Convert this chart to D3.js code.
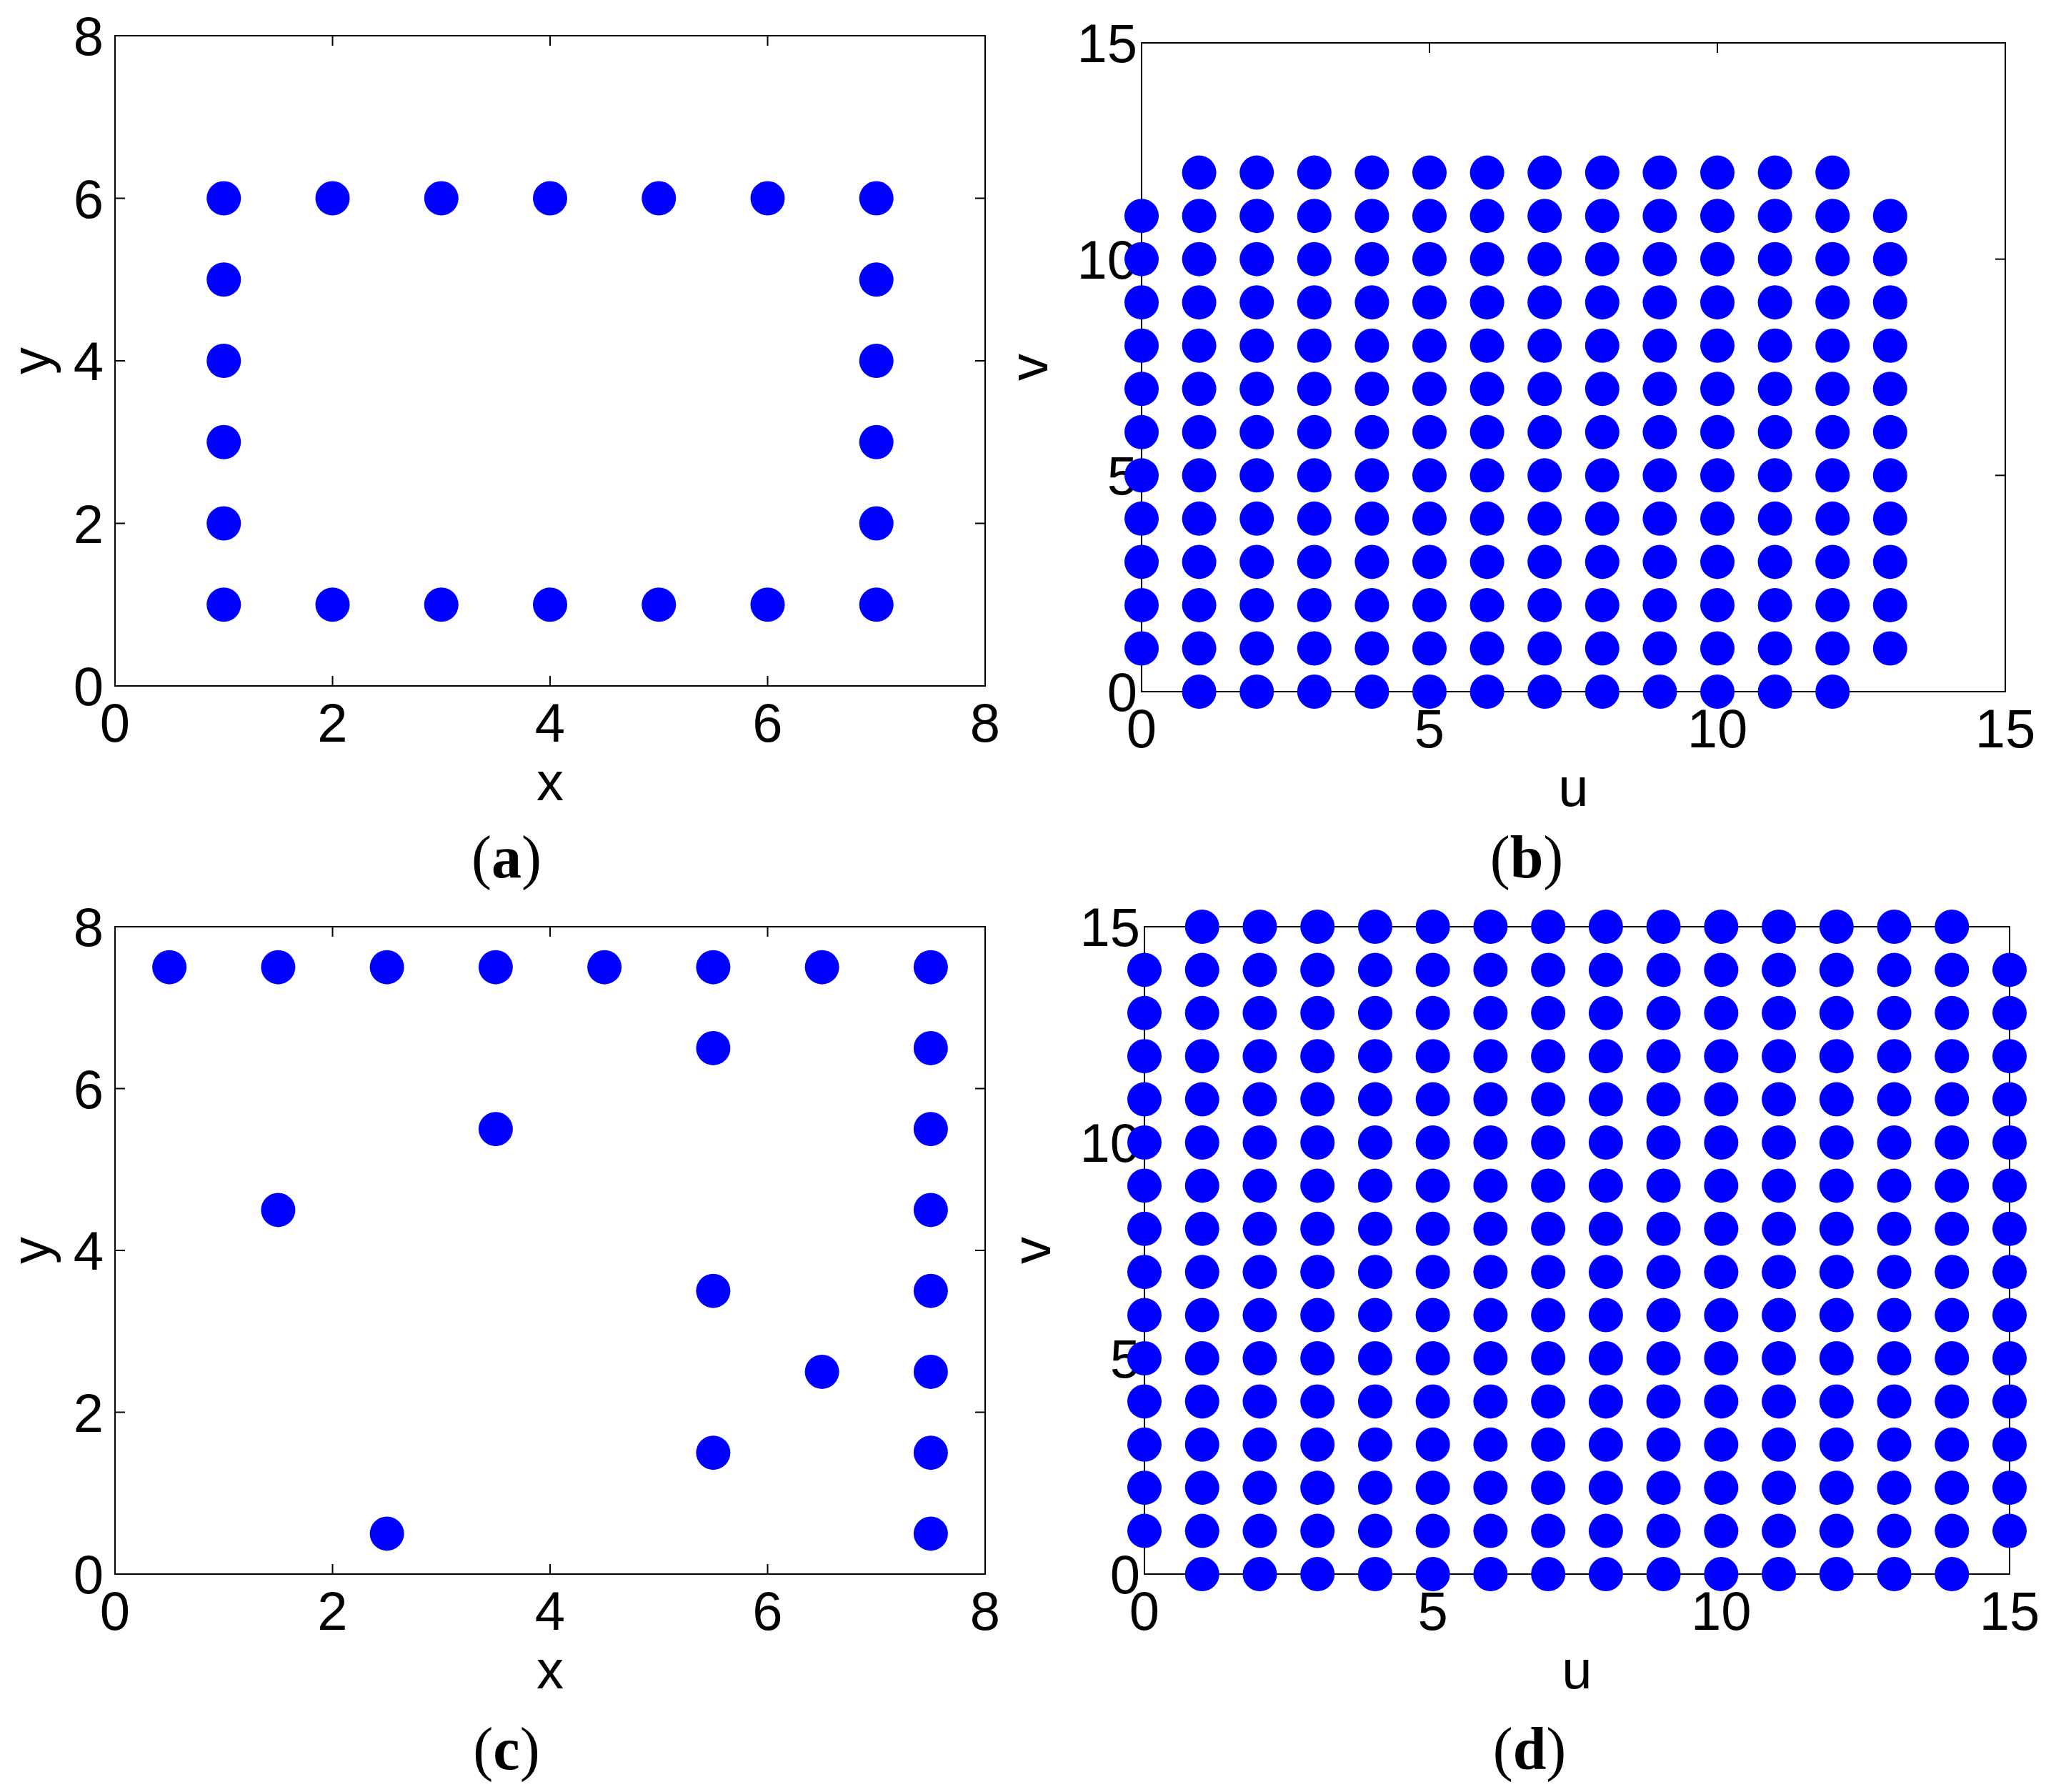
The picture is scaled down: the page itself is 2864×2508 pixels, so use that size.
<!DOCTYPE html>
<html><head><meta charset="utf-8">
<script src="https://cdn.jsdelivr.net/npm/d3@7"></script>
<style>body{margin:0;background:#fff}</style>
</head><body>
<script>
// panel (a): boundary points
var aX = [1,2,3,4,5,6,7, 1,2,3,4,5,6,7, 1,1,1,1, 7,7,7,7];
var aY = [6,6,6,6,6,6,6, 1,1,1,1,1,1,1, 5,4,3,2, 5,4,3,2];
// panel (b): grid columns u with v range
var bU    = [0,1,2,3,4,5,6,7,8,9,10,11,12,13];
var bVmin = [1,0,0,0,0,0,0,0,0,0,0,0,0,1];
var bVmax = [11,12,12,12,12,12,12,12,12,12,12,12,12,11];
// panel (c)
var cX = [0.5,1.5,2.5,3.5,4.5,5.5,6.5,7.5, 5.5,7.5,3.5,7.5,1.5,7.5,5.5,7.5,6.5,7.5,5.5,7.5,2.5,7.5];
var cY = [7.5,7.5,7.5,7.5,7.5,7.5,7.5,7.5, 6.5,6.5,5.5,5.5,4.5,4.5,3.5,3.5,2.5,2.5,1.5,1.5,0.5,0.5];
// panel (d)
var dU    = [0,1,2,3,4,5,6,7,8,9,10,11,12,13,14,15];
var dVmin = [1,0,0,0,0,0,0,0,0,0,0,0,0,0,0,1];
var dVmax = [14,15,15,15,15,15,15,15,15,15,15,15,15,15,15,14];

var ticks8 = [0,2,4,6,8], ticks15 = [0,5,10,15];

function gridPts(us, vmin, vmax){
  var pts = [];
  us.forEach(function(u,i){ for (var v = vmin[i]; v <= vmax[i]; v++) pts.push([u,v]); });
  return pts;
}

var svg = d3.select("body").append("svg").attr("width",2864).attr("height",2508);

var panels = [
  {l:161, r:1379, t:50, b:960, max:8, ticks:ticks8, pts:aX.map((d,i)=>[d,aY[i]]), xl:"x", yl:"y", lab:"a", lx:709, ly:1228, gap:16, yo:92},
  {l:1598, r:2807, t:60, b:968, max:15, ticks:ticks15, pts:gridPts(bU,bVmin,bVmax), xl:"u", yl:"v", lab:"b", lx:2137, ly:1228, gap:6, yo:132},
  {l:161, r:1379, t:1297, b:2203, max:8, ticks:ticks8, pts:cX.map((d,i)=>[d,cY[i]]), xl:"x", yl:"y", lab:"c", lx:709, ly:2476, gap:16, yo:92},
  {l:1602, r:2813, t:1297, b:2203, max:15, ticks:ticks15, pts:gridPts(dU,dVmin,dVmax), xl:"u", yl:"v", lab:"d", lx:2141, ly:2476, gap:6, yo:132}
];

panels.forEach(function(p){
  var x = d3.scaleLinear().domain([0,p.max]).range([p.l,p.r]);
  var y = d3.scaleLinear().domain([0,p.max]).range([p.b,p.t]);
  var g = svg.append("g");
  g.append("rect").attr("x",p.l).attr("y",p.t).attr("width",p.r-p.l).attr("height",p.b-p.t)
    .attr("fill","none").attr("stroke","#000").attr("stroke-width",2);
  var tk = 14;
  p.ticks.forEach(function(t){
    g.append("line").attr("x1",x(t)).attr("x2",x(t)).attr("y1",p.b).attr("y2",p.b-tk).attr("stroke","#000").attr("stroke-width",2);
    g.append("line").attr("x1",x(t)).attr("x2",x(t)).attr("y1",p.t).attr("y2",p.t+tk).attr("stroke","#000").attr("stroke-width",2);
    g.append("line").attr("y1",y(t)).attr("y2",y(t)).attr("x1",p.l).attr("x2",p.l+tk).attr("stroke","#000").attr("stroke-width",2);
    g.append("line").attr("y1",y(t)).attr("y2",y(t)).attr("x1",p.r).attr("x2",p.r-tk).attr("stroke","#000").attr("stroke-width",2);
    g.append("text").attr("x",x(t)).attr("y",p.b+78).attr("text-anchor","middle").text(t);
    g.append("text").attr("x",p.l-p.gap).attr("y",y(t)+27).attr("text-anchor","end").text(t);
  });
  g.selectAll("circle").data(p.pts).enter().append("circle")
    .attr("cx",d=>x(d[0])).attr("cy",d=>y(d[1])).attr("r",24).attr("fill","#0000ff");
  g.append("text").attr("x",(p.l+p.r)/2).attr("y",p.b+160).attr("text-anchor","middle").text(p.xl);
  g.append("text").attr("transform","translate("+(p.l-p.yo)+","+((p.t+p.b)/2)+") rotate(-90)")
    .attr("text-anchor","middle").text(p.yl);
  var lt = g.append("text").attr("x",p.lx).attr("y",p.ly).attr("text-anchor","middle")
    .style("font-family","'Liberation Serif', serif").style("font-size","84px");
  lt.append("tspan").text("(");
  lt.append("tspan").style("font-weight","bold").text(p.lab);
  lt.append("tspan").text(")");
});
svg.selectAll("text").filter(function(){ return !this.style.fontFamily; })
  .style("font-family","'Liberation Sans', Arial, sans-serif").style("font-size","76px");
</script>
</body></html>
